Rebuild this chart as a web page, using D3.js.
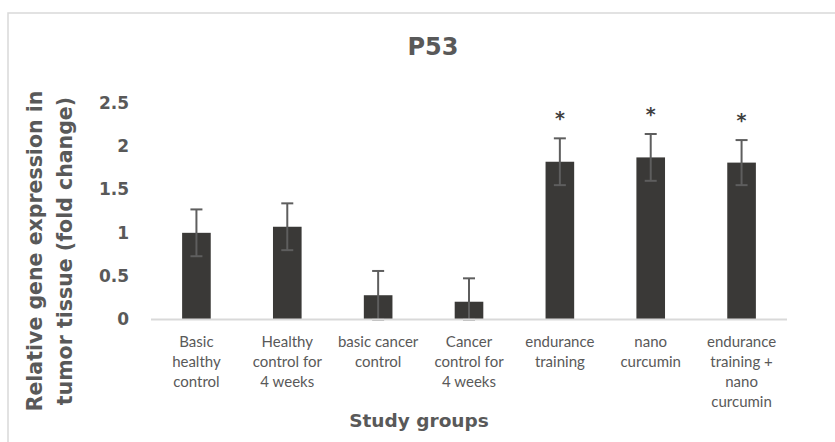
<!DOCTYPE html>
<html>
<head>
<meta charset="utf-8">
<script src="https://cdn.jsdelivr.net/npm/d3@7"></script>
<style>
  body { margin: 0; background: #fff; }
  svg { display: block; }
</style>
</head>
<body>
<svg id="chart" width="835" height="442"></svg>
<script>
const groups = [
  'Basic healthy control',
  'Healthy control for 4 weeks',
  'basic cancer control',
  'Cancer control for 4 weeks',
  'endurance training',
  'nano curcumin',
  'endurance training + nano curcumin',
]
// wrapped category labels as drawn under the axis
const groupLines = [
  ['Basic', 'healthy', 'control'],
  ['Healthy', 'control for', '4 weeks'],
  ['basic cancer', 'control'],
  ['Cancer', 'control for', '4 weeks'],
  ['endurance', 'training'],
  ['nano', 'curcumin'],
  ['endurance', 'training +', 'nano', 'curcumin'],
]
const means = [1.0, 1.07, 0.28, 0.205, 1.82, 1.87, 1.81]
const errors = [0.27, 0.27, 0.28, 0.27, 0.27, 0.27, 0.26]
const significant = [false, false, false, false, true, true, true]
const yTicks = [0, 0.5, 1, 1.5, 2, 2.5]

const textColor = '#595959'
const svg = d3.select('#chart')

// chart frame
svg.append('rect')
  .attr('x', 8).attr('y', 13)
  .attr('width', 840).attr('height', 440)
  .attr('fill', 'none')
  .attr('stroke', '#d9d9d9')
  .attr('stroke-width', 1.5)

const x = d3.scaleBand()
  .domain(groups)
  .range([151, 787])
  .paddingInner(0.685)
  .paddingOuter(0.3425)
const y = d3.scaleLinear().domain([0, 2.5]).range([319.5, 102.8])

// title
svg.append('text')
  .attr('x', 433).attr('y', 54.5)
  .attr('text-anchor', 'middle')
  .attr('font-family', 'DejaVu Sans')
  .attr('font-weight', 'bold')
  .attr('font-size', 24)
  .attr('fill', textColor)
  .text('P53')

// y axis (labels only)
const yAxis = svg.append('g')
  .attr('class', 'axis axis--y')
  .attr('transform', 'translate(129, 0)')
  .call(d3.axisLeft(y).tickValues(yTicks).tickSize(0).tickPadding(0).tickFormat(d3.format('')))
yAxis.select('.domain').remove()
yAxis.selectAll('text')
  .attr('font-family', 'DejaVu Sans')
  .attr('font-weight', 'bold')
  .attr('font-size', 17)
  .attr('fill', textColor)

// bars
svg.selectAll('.bar')
  .data(groups)
  .enter()
  .append('rect')
  .attr('class', 'bar')
  .attr('x', (d) => x(d))
  .attr('y', (d, i) => y(means[i]))
  .attr('width', x.bandwidth())
  .attr('height', (d, i) => y(0) - y(means[i]))
  .attr('fill', '#3a3937')

// error bars
const errG = svg.selectAll('.err')
  .data(groups)
  .enter()
  .append('g')
  .attr('class', 'err')
  .attr('stroke', '#5e5e5e')
  .attr('stroke-width', 2)
const cx = (d) => x(d) + x.bandwidth() / 2
const lo = (i) => y(Math.max(0, means[i] - errors[i]))
const hi = (i) => y(means[i] + errors[i])
errG.append('line')
  .attr('x1', cx).attr('x2', cx)
  .attr('y1', (d, i) => lo(i))
  .attr('y2', (d, i) => hi(i))
errG.append('line')
  .attr('x1', (d) => cx(d) - 6).attr('x2', (d) => cx(d) + 6)
  .attr('y1', (d, i) => hi(i))
  .attr('y2', (d, i) => hi(i))
errG.append('line')
  .attr('x1', (d) => cx(d) - 6).attr('x2', (d) => cx(d) + 6)
  .attr('y1', (d, i) => lo(i))
  .attr('y2', (d, i) => lo(i))

// significance marks
svg.selectAll('.star')
  .data(groups.filter((d, i) => significant[i]))
  .enter()
  .append('text')
  .attr('class', 'star')
  .attr('x', cx)
  .attr('y', (d) => hi(groups.indexOf(d)) - 13)
  .attr('text-anchor', 'middle')
  .attr('font-family', 'DejaVu Sans')
  .attr('font-weight', 'bold')
  .attr('font-size', 19)
  .attr('fill', '#404040')
  .text('*')

// baseline
svg.append('line')
  .attr('x1', 151).attr('x2', 787)
  .attr('y1', y(0)).attr('y2', y(0))
  .attr('stroke', '#d9d9d9')
  .attr('stroke-width', 2)

// category labels
const catLabels = svg.selectAll('.cat')
  .data(groups)
  .enter()
  .append('text')
  .attr('class', 'cat')
  .attr('text-anchor', 'middle')
  .attr('font-family', 'Lato')
  .attr('font-size', 15)
  .attr('fill', textColor)
catLabels.selectAll('tspan')
  .data((d, i) => groupLines[i].map((t) => ({t: t, g: d})))
  .enter()
  .append('tspan')
  .attr('x', (d) => cx(d.g))
  .attr('y', (d, j) => 347 + j * 20)
  .text((d) => d.t)

// axis titles
svg.append('text')
  .attr('x', 419).attr('y', 427)
  .attr('text-anchor', 'middle')
  .attr('font-family', 'DejaVu Sans')
  .attr('font-weight', 'bold')
  .attr('font-size', 18.5)
  .attr('fill', textColor)
  .text('Study groups')

const yTitle = svg.append('text')
  .attr('transform', 'translate(0, 251) rotate(-90)')
  .attr('text-anchor', 'middle')
  .attr('font-family', 'DejaVu Sans')
  .attr('font-weight', 'bold')
  .attr('font-size', 20.5)
  .attr('fill', textColor)
yTitle.append('tspan').attr('x', 0).attr('y', 42).text('Relative gene expression in')
yTitle.append('tspan').attr('x', 0).attr('y', 72).text('tumor tissue (fold change)')
</script>
</body>
</html>
